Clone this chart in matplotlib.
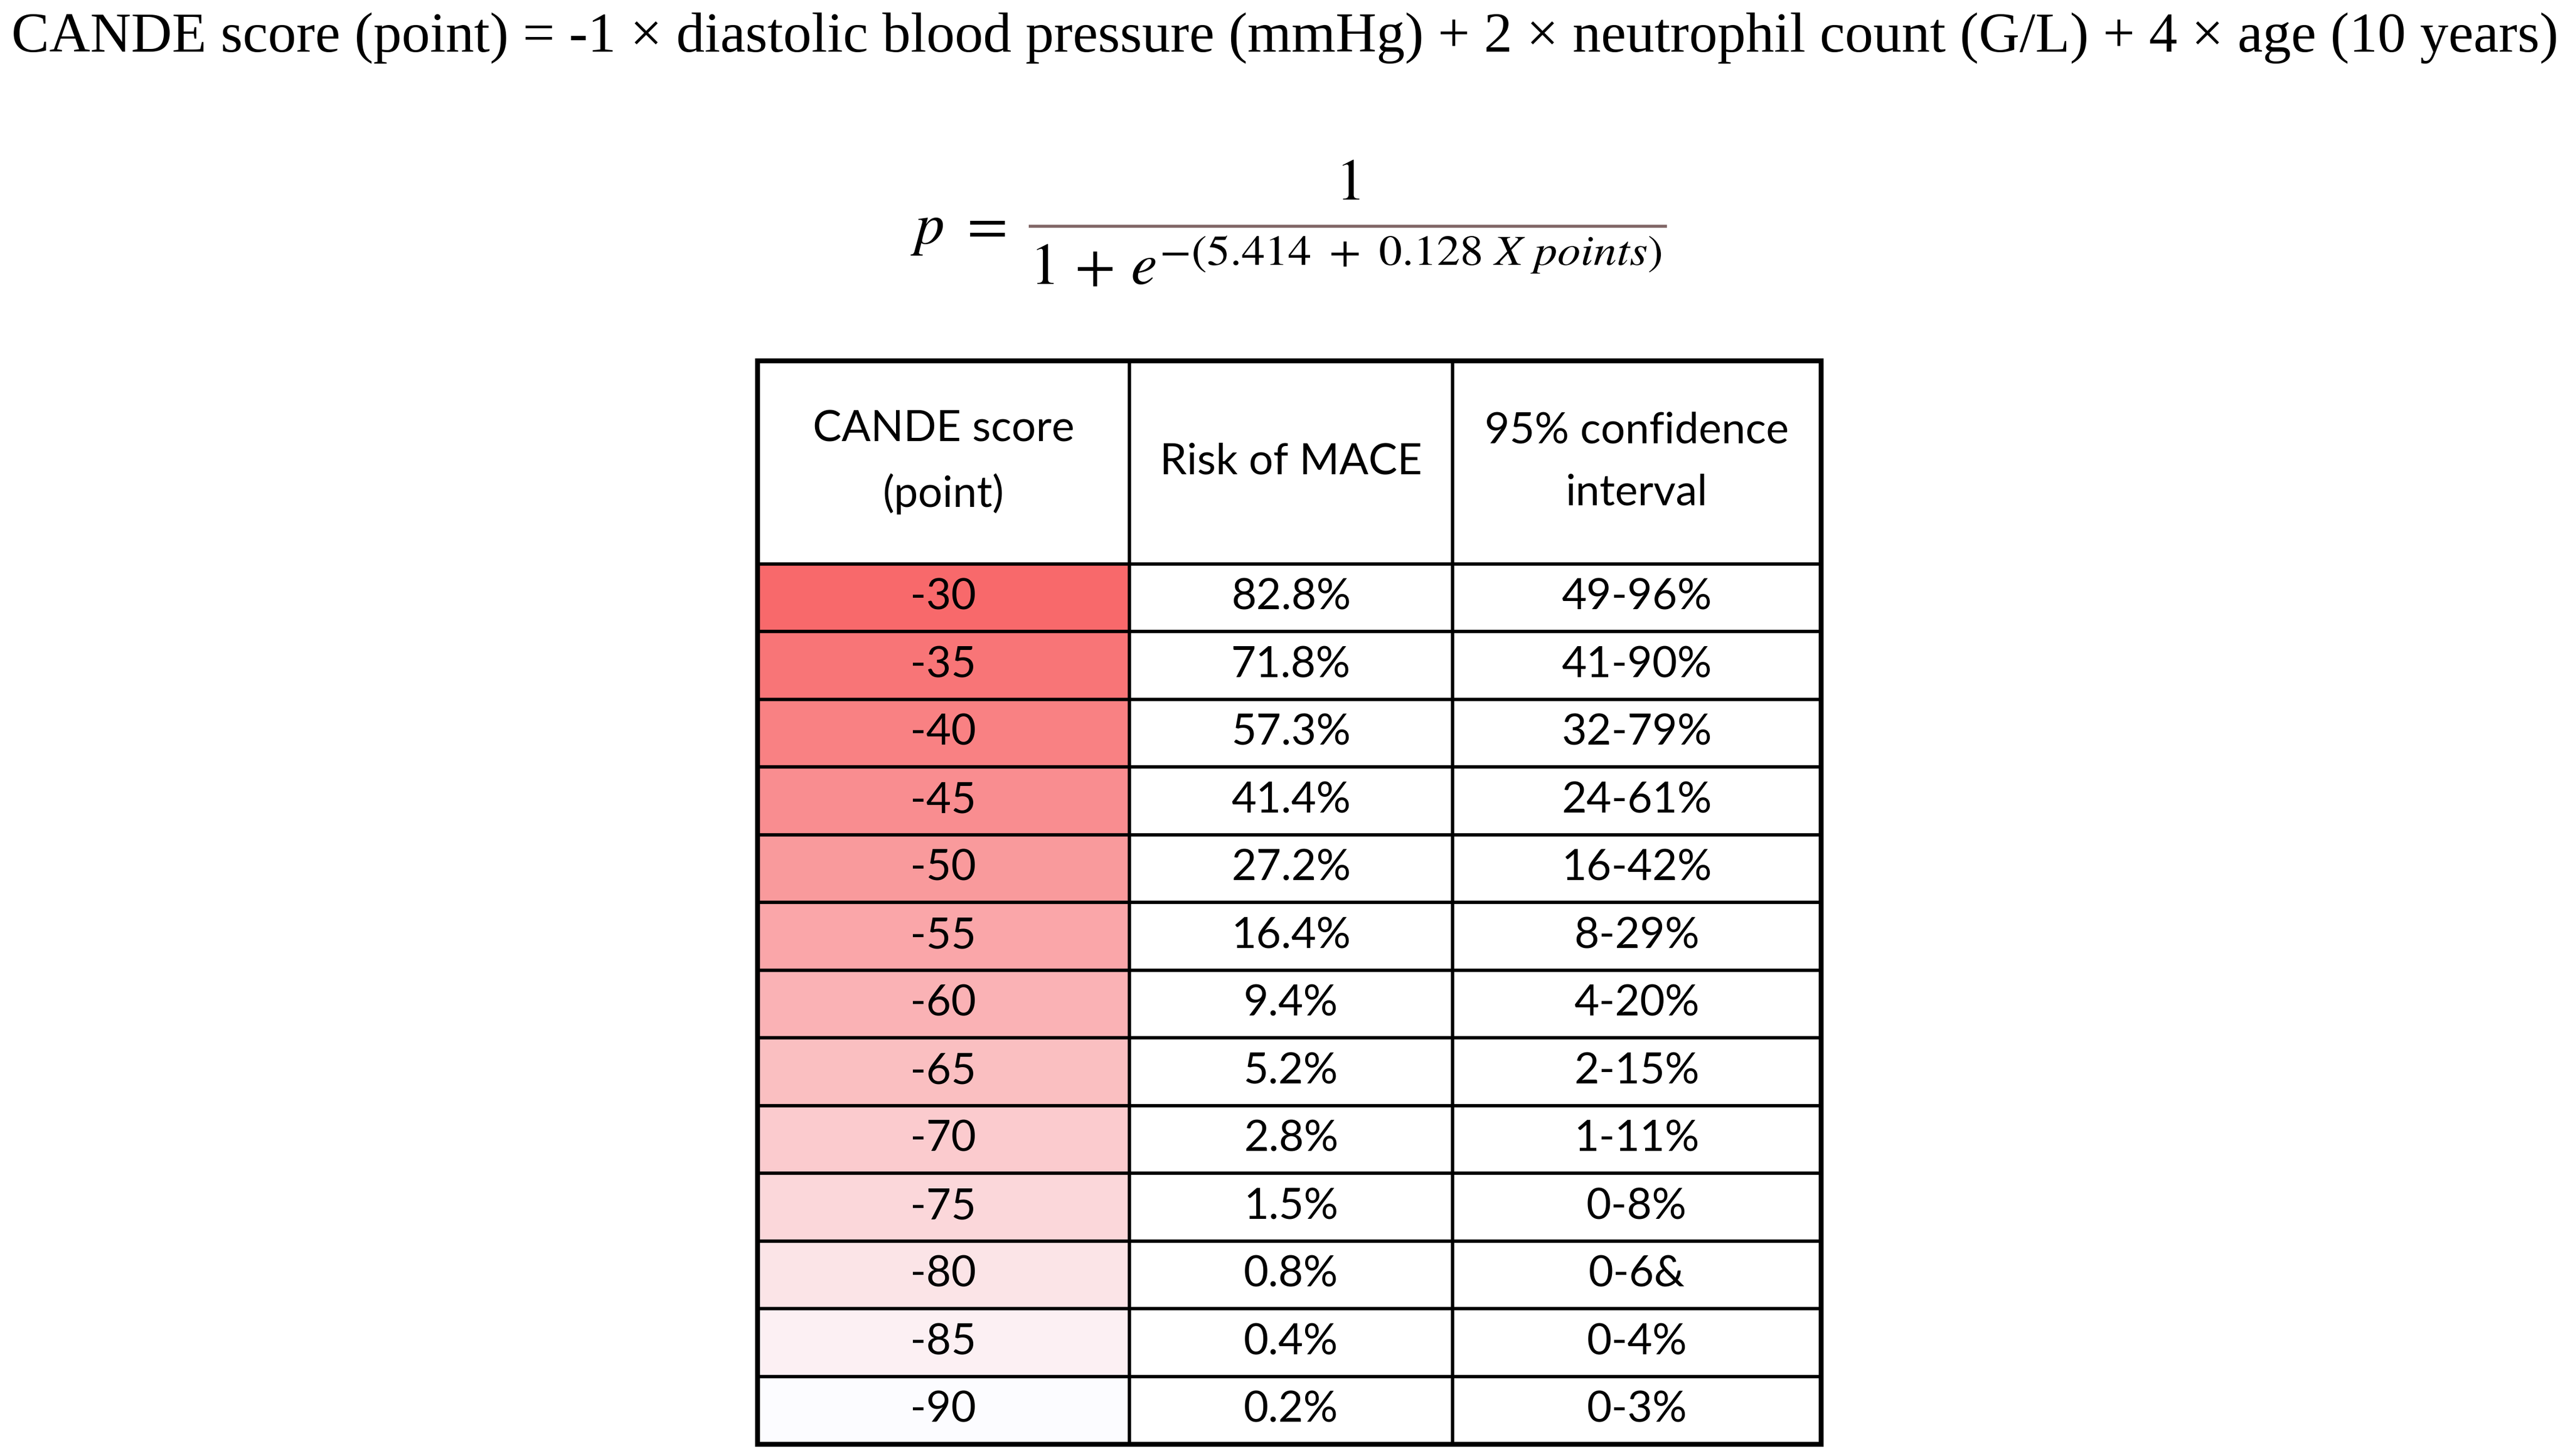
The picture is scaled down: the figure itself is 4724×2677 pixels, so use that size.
import numpy as np
import matplotlib
matplotlib.use("Agg")
import matplotlib.pyplot as plt
from matplotlib.colors import LinearSegmentedColormap, Normalize
from matplotlib.patches import Rectangle, PathPatch
from matplotlib.textpath import TextPath
from matplotlib.transforms import Affine2D
from matplotlib.font_manager import FontProperties

# data
scores = [-30, -35, -40, -45, -50, -55, -60, -65, -70, -75, -80, -85, -90]
risk = ["82.8%", "71.8%", "57.3%", "41.4%", "27.2%", "16.4%", "9.4%",
        "5.2%", "2.8%", "1.5%", "0.8%", "0.4%", "0.2%"]
ci = ["49-96%", "41-90%", "32-79%", "24-61%", "16-42%", "8-29%", "4-20%",
      "2-15%", "1-11%", "0-8%", "0-6&", "0-4%", "0-3%"]
headers = ["CANDE score\n(point)", "Risk of MACE", "95% confidence\ninterval"]

title = ("CANDE score (point) = -1 × diastolic blood pressure (mmHg) + "
         "2 × neutrophil count (G/L) + 4 × age (10 years)")
exponent = r"$-(5.414\ +\ 0.128\ X\ points)$"

W, H = 4724, 2677
plt.rcParams['mathtext.fontset'] = 'stix'

fig = plt.figure(figsize=(W / 100, H / 100), dpi=100)
ax = fig.add_axes([0, 0, 1, 1])
ax.set_xlim(0, W)
ax.set_ylim(H, 0)
ax.axis('off')

# title line
ax.text(W / 2, 70, title, ha='center', va='center', fontsize=75,
        family='Liberation Serif')

# logistic formula
ax.text(1673, 448, "$p\\ =$", ha='left', va='baseline', fontsize=78)
ax.plot([1891, 3064], [416, 416], color='#806666', lw=4,
        solid_capstyle='butt')
ax.text(2477, 367, "$1$", ha='center', va='baseline', fontsize=78)
ax.text(1893, 522, "$1\\,+\\,e$", ha='left', va='baseline', fontsize=78)

# the exponent is wider than a plain superscript, so stretch a text path
tp = TextPath((0, 0), exponent, size=1, prop=FontProperties(family='STIXGeneral'))
bb = tp.get_extents()
sx = (3053 - 2137) / bb.width
sy = (503 - 433) / bb.height
tr = Affine2D().translate(-bb.x0, -bb.y1).scale(sx, -sy).translate(2137, 433)
ax.add_patch(PathPatch(tr.transform_path(tp), facecolor='black',
                       edgecolor='none'))

# table layout
col_w = [684, 594, 677]
x0, y0 = 1392, 663
row_h = 124.5
head_h = 3 * row_h
xs = np.concatenate([[x0], x0 + np.cumsum(col_w)])
n = len(scores)

cmap = LinearSegmentedColormap.from_list('excel', ['#FCFCFF', '#F8696B'])
norm = Normalize(vmin=min(scores), vmax=max(scores))

tfont = dict(family='Lato', fontsize=57, color='black')

# header
for j, h in enumerate(headers):
    ax.text((xs[j] + xs[j + 1]) / 2, y0 + head_h / 2, h, ha='center',
            va='center', linespacing=1.72, **tfont)

for i, (s, r, c) in enumerate(zip(scores, risk, ci)):
    top = y0 + head_h + i * row_h
    ax.add_patch(Rectangle((xs[0], top), col_w[0], row_h,
                           facecolor=cmap(norm(s)), edgecolor='none'))
    yc = top + row_h / 2
    for j, val in enumerate([str(s), r, c]):
        ax.text((xs[j] + xs[j + 1]) / 2, yc, val, ha='center', va='center',
                **tfont)

y_end = y0 + head_h + n * row_h
# grid lines
for k in range(n + 1):
    yy = y0 + head_h + k * row_h
    ax.plot([xs[0], xs[-1]], [yy, yy], color='black', lw=4.5,
            solid_capstyle='butt')
for xx in xs[1:-1]:
    ax.plot([xx, xx], [y0, y_end], color='black', lw=4.5,
            solid_capstyle='butt')
ax.add_patch(Rectangle((xs[0], y0), xs[-1] - xs[0], y_end - y0,
                       facecolor='none', edgecolor='black', lw=6.5))

fig.savefig("out.png", dpi=100)
